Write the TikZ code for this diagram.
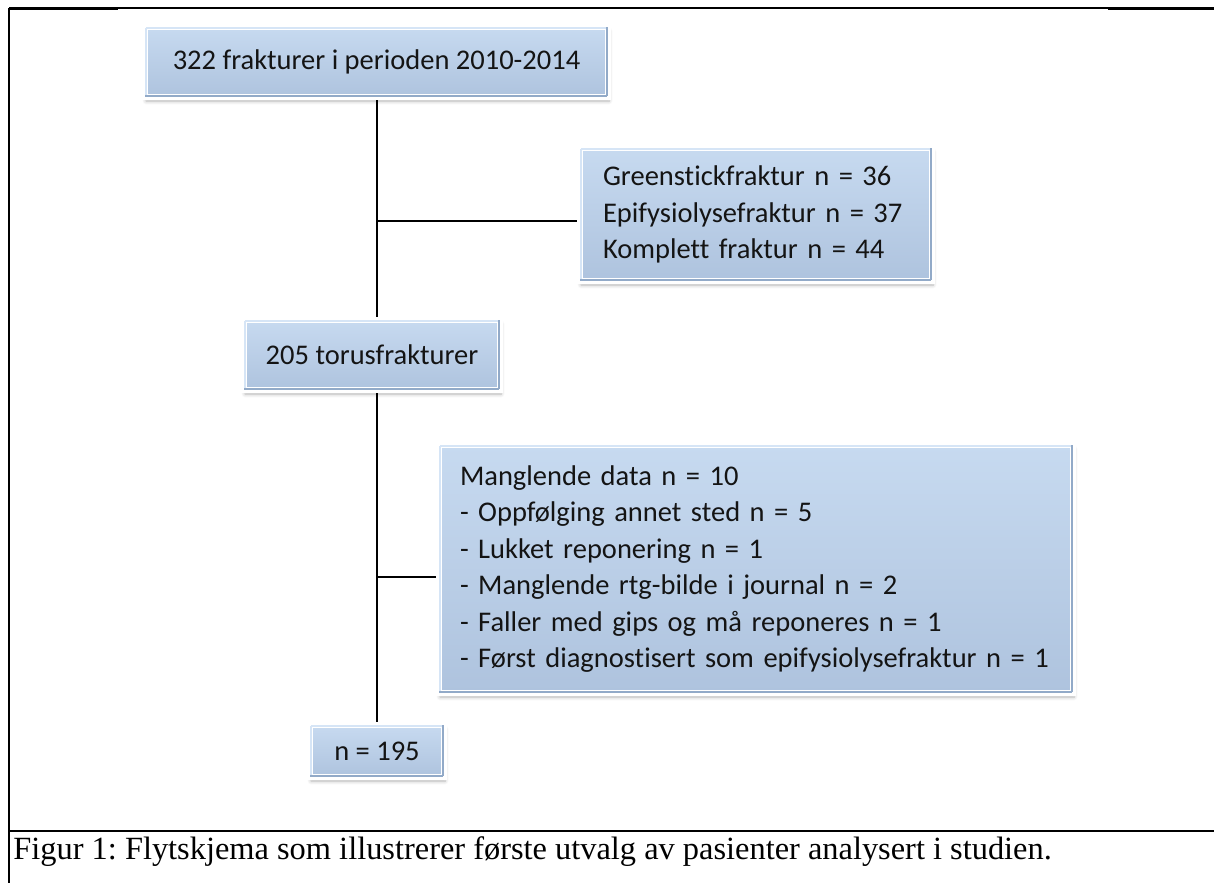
\documentclass[tikz,border=0pt]{standalone}
\usepackage{fontspec}
\setmainfont{Liberation Serif}
\newfontfamily\boksfont[Ligatures={NoCommon}]{Carlito}
\usepackage{tikz}
\usetikzlibrary{backgrounds,shadows.blur}

\definecolor{boksblaatopp}{RGB}{199,218,240}
\definecolor{boksblaabunn}{RGB}{174,195,222}
\definecolor{kantmork}{RGB}{146,170,200}
\definecolor{kantlys}{RGB}{214,229,246}
\definecolor{tekstgraa}{RGB}{20,20,20}

\begin{document}
\frenchspacing
\begin{tikzpicture}[x=0.5pt,y=-0.5pt,
		boks/.style={rectangle,draw=white,line width=3pt,top color=boksblaatopp,bottom color=boksblaabunn,
			blur shadow={shadow xshift=0.5pt,shadow yshift=-2pt,shadow opacity=30,shadow blur steps=6},
			text=tekstgraa,font=\boksfont\fontsize{14.25}{18.25}\selectfont,inner ysep=2pt,
			append after command={
				([shift={(1.5pt,2pt)}]\tikzlastnode.south west) edge[kant,kantmork] ([shift={(-2pt,2pt)}]\tikzlastnode.south east)
				([shift={(-2pt,2pt)}]\tikzlastnode.south east) edge[kant,kantmork] ([shift={(-2pt,-1.5pt)}]\tikzlastnode.north east)
				([shift={(2pt,-2pt)}]\tikzlastnode.north west) edge[kant,kantlys] ([shift={(-2.5pt,-2pt)}]\tikzlastnode.north east)
				([shift={(2pt,-2pt)}]\tikzlastnode.north west) edge[kant,kantlys] ([shift={(2pt,2.5pt)}]\tikzlastnode.south west)}},
		kant/.style={line width=1pt,shorten <=0pt},
		linje/.style={line width=1.25pt,black}]
		\useasboundingbox (0,0) rectangle (1214,883);
		% ramme
		\draw[line width=1pt] (9,8) -- (9,883);
		\draw[line width=0.6pt] (9,8) -- (1214,8);
		\draw[line width=1pt] (9,9.5) -- (118,9.5);
		\draw[line width=1pt] (1108,9.5) -- (1214,9.5);
		\draw[line width=1.2pt] (9,831) -- (1214,831);
		% bokser
		\node[boks,minimum width=231.5pt,minimum height=35pt] (kilde) at (376.5,62) {322 frakturer i perioden 2010-2014};
		\node[boks,minimum width=176pt,minimum height=66.5pt,inner xsep=11.5pt,text width=153pt,align=left] (eksklusjon1) at (756,214.5)
			{Greenstickfraktur n = 36\\Epifysiolysefraktur n = 37\\Komplett fraktur n = 44};
		\node[boks,minimum width=128pt,minimum height=35pt] (torus) at (372,355) {205 torusfrakturer};
		\node[boks,minimum width=317pt,minimum height=124pt,inner xsep=10.5pt,text width=296pt,align=left] (eksklusjon2) at (756,569)
			{Manglende data n = 10\\- Oppfølging annet sted n = 5\\- Lukket reponering n = 1\\- Manglende rtg-bilde i journal n = 2\\- Faller med gips og må reponeres n = 1\\- Først diagnostisert som epifysiolysefraktur n = 1};
		\node[boks,minimum width=67pt,minimum height=26pt] (utvalg) at (377,751) {n = 195};
		% linjer
		\coordinate (stamme) at (377,0);
		\coordinate (gren1) at (377,221);
		\coordinate (gren2) at (377,577);
		\begin{scope}[on background layer]
			\draw[linje] (kilde.south -| stamme) -- (torus.north -| stamme);
			\draw[linje] (torus.south -| stamme) -- (utvalg.north -| stamme);
			\draw[linje] (gren1) -- (gren1 -| eksklusjon1.west);
			\draw[linje] (gren2) -- (gren2 -| eksklusjon2.west);
		\end{scope}
		\node[anchor=base west,inner sep=0pt,font=\fontsize{16.2}{19}\selectfont] (figurtekst) at (13,859)
			{Figur 1: Flytskjema som illustrerer første utvalg av pasienter analysert i studien.};
	\end{tikzpicture}
\end{document}
